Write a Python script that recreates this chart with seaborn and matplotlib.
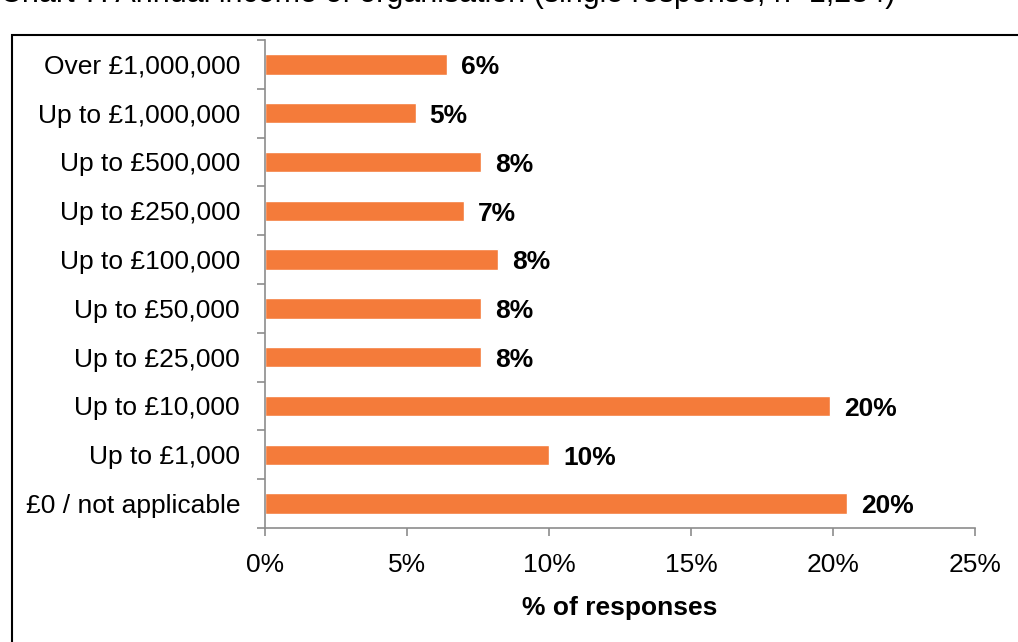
import numpy as np
import pandas as pd
import matplotlib
matplotlib.use('Agg')
import matplotlib.pyplot as plt
import seaborn as sns
from matplotlib.patches import Rectangle
from matplotlib.ticker import FixedLocator, PercentFormatter

categories = ['Over £1,000,000', 'Up to £1,000,000', 'Up to £500,000', 'Up to £250,000',
              'Up to £100,000', 'Up to £50,000', 'Up to £25,000', 'Up to £10,000',
              'Up to £1,000', '£0 / not applicable']
values = [6.4, 5.3, 7.6, 7.0, 8.2, 7.6, 7.6, 19.9, 10.0, 20.5]
labels = ['6%', '5%', '8%', '7%', '8%', '8%', '8%', '20%', '10%', '20%']

sns.set_style('white')
plt.rcParams['font.family'] = ['Liberation Sans', 'DejaVu Sans']
plt.rcParams['text.color'] = 'black'
plt.rcParams['axes.labelcolor'] = 'black'

bar_color = '#F47B3A'
axis_grey = '#8C8C8C'

df = pd.DataFrame({'income': categories, 'pct': values})

fig = plt.figure(figsize=(10.18, 6.42), dpi=100)
ax = fig.add_axes([265 / 1018, 1 - 528 / 642, 710 / 1018, 488 / 642])

sns.barplot(data=df, x='pct', y='income', order=categories, color=bar_color,
            width=0.42, saturation=1, ax=ax)

for i, (v, lab) in enumerate(zip(values, labels)):
    ax.annotate(lab, (v, i), xytext=(10, -2), textcoords='offset points',
                ha='left', va='center', fontsize=19, fontweight='bold', color='black')

ax.set_xlim(0, 25)
ax.set_ylim(9.5, -0.5)
ax.set_xticks([0, 5, 10, 15, 20, 25])
ax.xaxis.set_major_formatter(PercentFormatter(decimals=0))
ax.yaxis.set_minor_locator(FixedLocator(np.arange(-0.5, 10, 1)))
ax.tick_params(axis='y', which='major', length=0, labelsize=19, pad=18, labelcolor='black')
ax.tick_params(axis='y', which='minor', length=6, color=axis_grey, width=1.2, left=True)
ax.tick_params(axis='x', which='major', length=6, color=axis_grey, width=1.2,
               labelsize=19, pad=12, bottom=True, labelcolor='black')

for side in ['top', 'right']:
    ax.spines[side].set_visible(False)
for side in ['left', 'bottom']:
    ax.spines[side].set_color(axis_grey)
    ax.spines[side].set_linewidth(1.2)

ax.set_ylabel('')
ax.set_xlabel('% of responses', fontsize=19, fontweight='bold', labelpad=14, color='black')

# outer frame of the chart box, cut at right and bottom
fig.patches.append(Rectangle((12 / 1018, -0.1), 1.1, 1 - 35 / 642 + 0.1,
                             transform=fig.transFigure, fill=False,
                             edgecolor='black', linewidth=1.5))

# title, mostly cropped at the top edge as in the source
fig.text(0.0, 1 + 6 / 642, 'Chart 7: Annual income of organisation (single response, n=1,234)',
         ha='left', va='center', fontsize=22, color='black')

fig.savefig('out.png', dpi=100)
